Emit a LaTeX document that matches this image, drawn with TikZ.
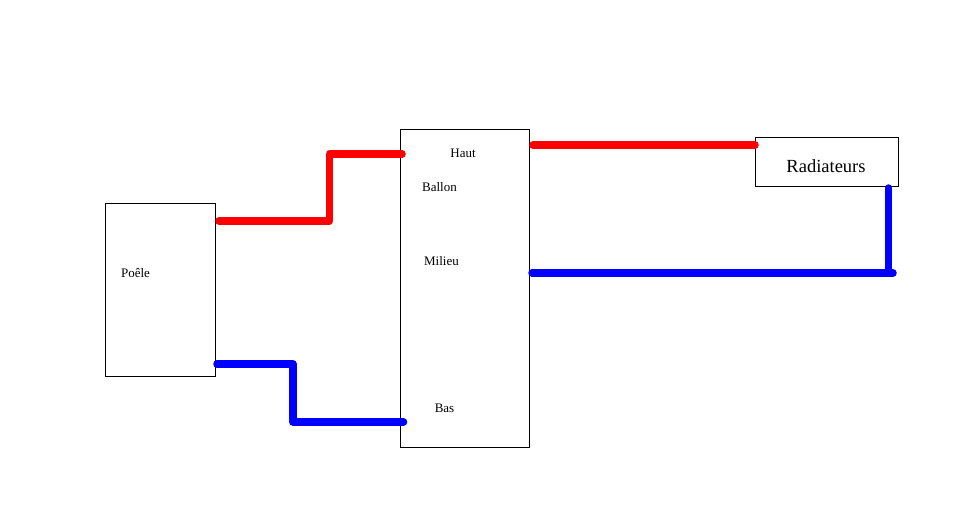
\documentclass[tikz,border=0pt]{standalone}
\usepackage{fontspec}
\setmainfont{Liberation Serif}
\begin{document}
\begin{tikzpicture}[x=1pt,y=-1pt,
  box/.style={draw=black,line width=0.75pt,fill=white,inner sep=0pt,anchor=north west},
  lbl/.style={font=\fontsize{13}{15}\selectfont,inner sep=0pt,text=black},
  hot/.style={draw=red,line width=7.5pt,line cap=round,line join=round},
  cold/.style={draw=blue,line width=7.5pt,line cap=round,line join=round}]
\useasboundingbox (0,0) rectangle (968,531);
\node[box,minimum width=110pt,minimum height=173pt] (poele) at (104.5,202.5) {};
\node[box,minimum width=129pt,minimum height=318pt] (ballon) at (399.5,128.5) {};
\node[box,minimum width=143pt,minimum height=49pt] (rad) at (754.5,136.5) {};
\node[lbl] (tpoele) at (135.5,273) {Poêle};
\node[lbl] (thaut) at (463,153) {Haut};
\node[lbl] (tballon) at (439.5,187) {Ballon};
\node[lbl] (tmilieu) at (441.5,261) {Milieu};
\node[lbl] (tbas) at (444.5,408) {Bas};
\node[lbl,font=\fontsize{18.5}{21}\selectfont] (trad) at (826,166.5) {Radiateurs};
\coordinate (h1) at (219,221);
\coordinate (h2) at (402,154);
\coordinate (c1) at (217,364);
\coordinate (c2) at (403.5,422);
\coordinate (h3) at (533,145);
\coordinate (h4) at (755,145);
\coordinate (c3) at (532,273);
\coordinate (c4) at (893,273);
\coordinate (c5) at (888.5,188);
\draw[hot] (h1) -- (329.5,221) -- (329.5,154) -- (h2);
\draw[cold] (c1) -- (293,364) -- (293,422) -- (c2);
\draw[hot] (h3) -- (h4);
\draw[cold] (c3) -- (c4);
\draw[cold] (c5) -- (c5 |- c4);
\end{tikzpicture}
\end{document}
